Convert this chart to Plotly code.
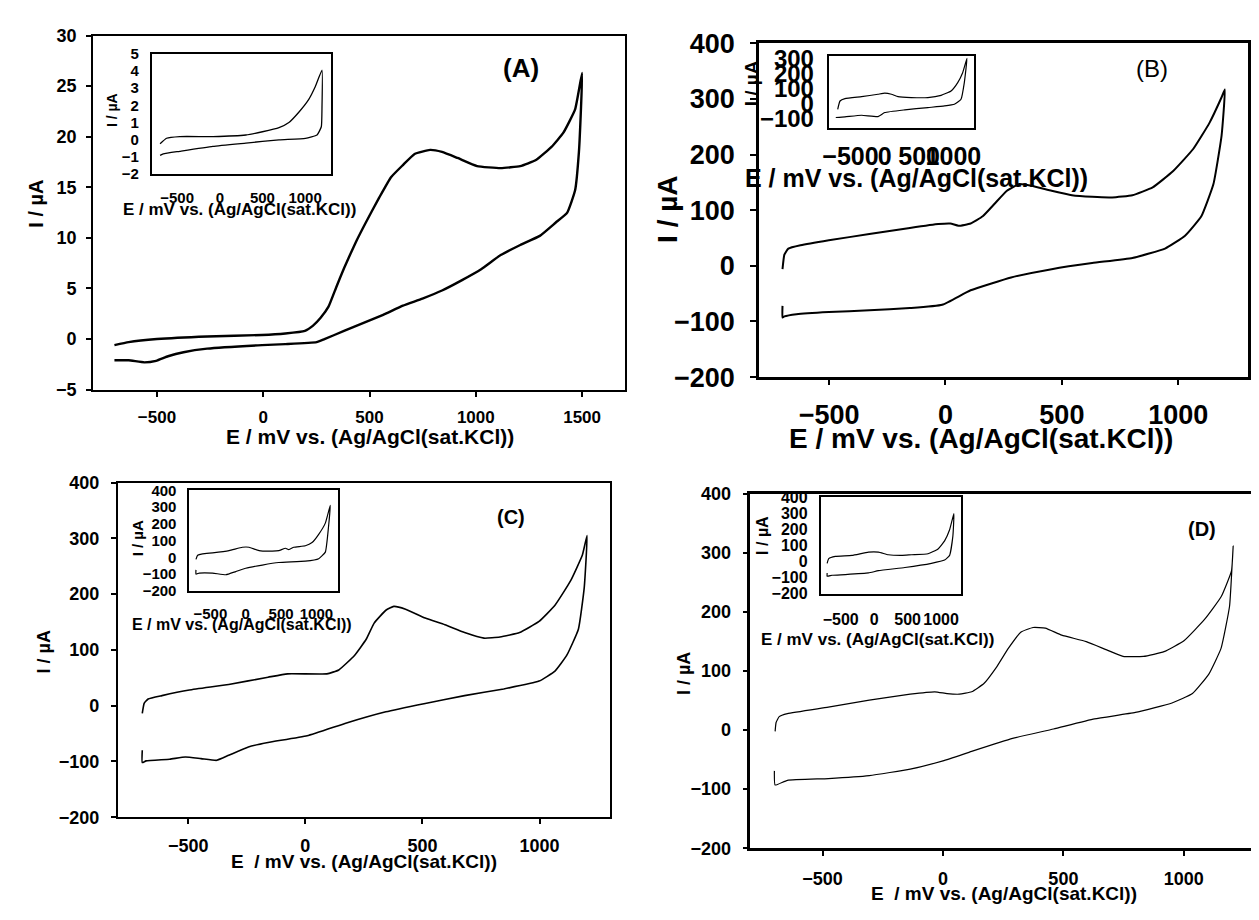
import plotly.graph_objects as go

# ---------------- data ----------------
# Panel A (main)
a_E = [-700, -633, -500, -264, -6, 104, 196, 233, 270, 307, 343, 380, 436, 482, 546, 601, 657, 712, 785, 841, 914, 1006, 1117, 1209, 1283, 1356, 1412, 1467, 1500,
       1495, 1485, 1467, 1430, 1375, 1301, 1209, 1117, 1025, 933, 841, 749, 657, 564, 472, 380, 288, 251, 104, -6, -264, -375, -448, -504, -559, -633, -700]
a_I = [-0.6, -0.3, 0.0, 0.26, 0.4, 0.55, 0.8, 1.3, 2.1, 3.2, 5.1, 7.0, 9.6, 11.5, 14.0, 16.0, 17.2, 18.3, 18.7, 18.5, 17.9, 17.1, 16.9, 17.1, 17.7, 19.0, 20.4, 22.7, 26.3,
       23.0, 18.5, 14.7, 12.5, 11.5, 10.2, 9.3, 8.3, 6.9, 5.8, 4.8, 4.0, 3.3, 2.4, 1.6, 0.8, 0.0, -0.3, -0.5, -0.6, -0.95, -1.3, -1.7, -2.15, -2.3, -2.1, -2.1]
# Panel A (inset)
ai_E = [-700, -624, -469, -81, 306, 500, 694, 810, 926, 1043, 1120, 1198,
        1198, 1190, 1140, 1004, 694, 306, -81, -469, -663, -700]
ai_I = [-0.24, 0.08, 0.18, 0.18, 0.27, 0.46, 0.7, 1.0, 1.6, 2.35, 3.1, 4.05,
        1.9, 0.75, 0.27, 0.08, -0.01, -0.2, -0.39, -0.68, -0.83, -0.92]

# Panel B (main)
b_E = [-700, -692, -675, -623, -501, -327, -153, -31, 21, 56, 108, 160, 212, 264, 317, 369, 456, 543, 630, 716, 803, 890, 977, 1064, 1134, 1186, 1200,
       1186, 1151, 1099, 1029, 943, 803, 630, 456, 282, 108, -14, -153, -327, -501, -640, -692, -700, -700]
b_I = [-6, 20, 31, 37, 46, 57, 68, 75, 76, 72, 76, 89, 112, 135, 147, 144, 135, 127, 124, 123, 127, 141, 170, 210, 257, 303, 317,
       234, 147, 89, 54, 31, 14, 5, -6, -21, -44, -70, -76, -80, -83, -87, -91, -93, -72]
# Panel B (inset)
bi_E = [-686, -652, -580, -338, -99, 0, 97, 193, 387, 628, 821, 966, 1063, 1135, 1198,
        1159, 1111, 1014, 870, 628, 290, 0, -99, -338, -580, -714]
bi_I = [-40, 15, 31, 44, 60, 67, 60, 44, 38, 38, 53, 82, 138, 204, 300,
        138, 27, -7, -18, -29, -44, -62, -89, -80, -91, -95]

# Panel C (main)
c_E = [-696, -688, -671, -612, -495, -327, -159, -76, 92, 143, 210, 260, 294, 344, 378, 428, 512, 596, 680, 763, 831, 915, 998, 1066, 1133, 1183, 1203,
       1191, 1166, 1116, 1066, 998, 847, 680, 512, 344, 176, 8, -159, -243, -327, -378, -445, -512, -579, -680, -696, -696]
c_I = [-14, 4, 12, 18, 28, 38, 51, 57, 57, 64, 90, 119, 148, 171, 178, 173, 157, 145, 131, 121, 123, 131, 151, 180, 224, 270, 305,
       212, 137, 90, 62, 44, 30, 18, 4, -11, -31, -54, -66, -74, -89, -98, -95, -92, -96, -99, -102, -80]
# Panel C (inset)
ci_E = [-704, -680, -610, -469, -235, -47, 47, 188, 375, 469, 563, 610, 680, 844, 938, 1032, 1126, 1196,
        1172, 1126, 1032, 844, 469, 235, 0, -141, -281, -469, -657, -704, -704]
ci_I = [-12, 12, 21, 27, 40, 60, 60, 40, 37, 40, 54, 46, 60, 69, 88, 137, 204, 310,
        185, 31, -8, -23, -31, -46, -65, -85, -104, -94, -94, -100, -75]

# Panel D (main)
d_E = [-697, -693, -680, -646, -476, -306, -136, -34, 17, 68, 119, 170, 221, 272, 323, 374, 425, 493, 595, 680, 748, 833, 918, 1002, 1087, 1155, 1198, 1205,
       1200, 1190, 1155, 1104, 1036, 951, 799, 629, 459, 289, 119, 0, -136, -306, -476, -646, -697, -700]
d_I = [-2, 13, 23, 28, 39, 51, 61, 65, 62, 61, 65, 79, 106, 139, 166, 174, 173, 161, 150, 136, 125, 125, 133, 152, 188, 226, 270, 312,
       275, 210, 139, 95, 62, 46, 30, 19, 2, -14, -36, -52, -66, -77, -82, -85, -93, -69]
# Panel D (inset)
di_E = [-702, -678, -579, -331, -84, 64, 213, 411, 559, 806, 955, 1053, 1128, 1192,
        1177, 1128, 1053, 856, 460, 64, -84, -430, -628, -702, -702]
di_I = [-11, 18, 32, 38, 58, 58, 42, 38, 42, 48, 78, 128, 197, 297,
        158, 38, 9, -11, -37, -57, -71, -81, -85, -91, -71]

# tick values
a_xticks = [-500, 0, 500, 1000, 1500]
a_yticks = [-5, 0, 5, 10, 15, 20, 25, 30]
ai_xticks = [-500, 0, 500, 1000]
ai_yticks = [-2, -1, 0, 1, 2, 3, 4, 5]
bcd_xticks = [-500, 0, 500, 1000]
bcd_yticks = [-200, -100, 0, 100, 200, 300, 400]
bi_yticks = [-100, 0, 100, 200, 300]

XT = "E / mV vs. (Ag/AgCl(sat.KCl))"
XT2 = "E  / mV vs. (Ag/AgCl(sat.KCl))"
YT = "I / µA"

# ---------------- layout helpers ----------------
W, H = 1259, 920
FONT = "Liberation Sans, Arial, sans-serif"


def px(x):
    return x / W


def py(y):
    return 1 - y / H


def font(size, bold=True):
    return dict(family=FONT, size=size, color="black", weight="bold" if bold else "normal")


def axis(dom, anchor, rng, ticks, size, lw=2, ticklen=5, standoff=4, showticks=True, bold=True):
    return dict(domain=dom, anchor=anchor, range=rng, tickvals=ticks, showgrid=False, zeroline=False,
                showline=True, mirror=True, linecolor="black", linewidth=lw, tickangle=0,
                ticks="outside" if showticks else "", ticklen=ticklen, tickwidth=1.5, tickcolor="black",
                tickfont=font(size, bold), ticklabelstandoff=standoff)


fig = go.Figure()


def line(w):
    return dict(color="black", width=w, shape="spline", smoothing=0.4)


fig.add_trace(go.Scatter(x=a_E, y=a_I, mode="lines", line=line(2.4), xaxis="x", yaxis="y"))
fig.add_trace(go.Scatter(x=ai_E, y=ai_I, mode="lines", line=line(1.3), xaxis="x2", yaxis="y2"))
fig.add_trace(go.Scatter(x=b_E, y=b_I, mode="lines", line=line(2.0), xaxis="x3", yaxis="y3"))
fig.add_trace(go.Scatter(x=bi_E, y=bi_I, mode="lines", line=line(1.2), xaxis="x4", yaxis="y4"))
fig.add_trace(go.Scatter(x=c_E, y=c_I, mode="lines", line=line(1.6), xaxis="x5", yaxis="y5"))
fig.add_trace(go.Scatter(x=ci_E, y=ci_I, mode="lines", line=line(1.2), xaxis="x6", yaxis="y6"))
fig.add_trace(go.Scatter(x=d_E, y=d_I, mode="lines", line=line(1.2), xaxis="x7", yaxis="y7"))
fig.add_trace(go.Scatter(x=di_E, y=di_I, mode="lines", line=line(1.2), xaxis="x8", yaxis="y8"))

layout = dict(
    width=W, height=H, margin=dict(l=0, r=0, t=0, b=0), showlegend=False,
    paper_bgcolor="white", plot_bgcolor="white",
    # A main
    xaxis=axis([px(80), px(617)], "y", [-800, 1700], a_xticks, 17, standoff=6),
    yaxis=axis([py(379), py(13)], "x", [-5, 30], a_yticks, 18, standoff=6),
    # A inset
    xaxis2=axis([px(139), px(320)], "y2", [-800, 1300], ai_xticks, 15, lw=1.5, showticks=False, standoff=9),
    yaxis2=axis([py(156), py(32)], "x2", [-2, 5], ai_yticks, 15, lw=1.5, showticks=False, standoff=8),
    # B main
    xaxis3=axis([px(753), px(1247)], "y3", [-800, 1300], bcd_xticks, 27, lw=3, ticklen=5, standoff=7),
    yaxis3=axis([py(366), py(21)], "x3", [-200, 400], bcd_yticks, 27, lw=3, ticklen=6, standoff=10),
    # B inset
    xaxis4=axis([px(823), px(970)], "y4", [-820, 1300], bcd_xticks, 25, lw=1.5, showticks=False, standoff=5),
    yaxis4=axis([py(109), py(34)], "x4", [-168, 316], bi_yticks, 24, lw=1.5, showticks=False, standoff=8),
    # C main
    xaxis5=axis([px(105), px(602)], "y5", [-800, 1300], bcd_xticks, 18, lw=2.2, standoff=6),
    yaxis5=axis([py(821), py(475)], "x5", [-200, 400], bcd_yticks, 18, lw=2.2, standoff=8),
    # C inset
    xaxis6=axis([px(177), px(327)], "y6", [-800, 1300], bcd_xticks, 15, lw=1.5, showticks=False, standoff=8),
    yaxis6=axis([py(587), py(483)], "x6", [-200, 400], bcd_yticks, 15, lw=1.5, showticks=False, standoff=8),
    # D main
    xaxis7=axis([px(744), px(1255)], "y7", [-800, 1300], bcd_xticks, 18, lw=2.5, standoff=7),
    yaxis7=axis([py(853), py(487)], "x7", [-200, 400], bcd_yticks, 18, lw=2.5, standoff=8),
    # D inset
    xaxis8=axis([px(815), px(957)], "y8", [-800, 1300], bcd_xticks, 16, lw=1.5, showticks=False, standoff=10),
    yaxis8=axis([py(590), py(490)], "x8", [-200, 400], bcd_yticks, 16, lw=1.5, showticks=False, standoff=8),
)
fig.update_layout(**layout)


def ann(text, x, y, size, bold=True, angle=0):
    fig.add_annotation(text=text, x=px(x), y=py(y), xref="paper", yref="paper", showarrow=False,
                       xanchor="center", yanchor="middle", textangle=angle, font=font(size, bold))


# Panel A
ann("(A)", 512, 47, 26)
ann(YT, 22, 187, 20, angle=-90)
ann(XT, 360, 427, 21)
ann(YT, 99, 90, 14, angle=-90)
ann(XT, 228, 193, 17)
# Panel B
ann("(B)", 1150, 47, 24, bold=False)
ann(YT, 661, 193, 28, angle=-90)
ann(XT, 977, 429, 28)
ann(YT, 746, 62, 19, angle=-90)
ann(XT, 912, 160, 25)
# Panel C
ann("(C)", 502, 511, 20)
ann(YT, 30, 650, 18, angle=-90)
ann(XT2, 354, 867, 19)
ann(YT, 125, 533, 15, angle=-90)
ann(XT, 230, 622, 16)
# Panel D
ann("(D)", 1200, 523, 20)
ann(YT, 677, 673, 18, angle=-90)
ann(XT2, 1000, 900, 19)
ann(YT, 757, 530, 16, angle=-90)
ann(XT, 873, 637, 17)

fig.write_html("out.html")
